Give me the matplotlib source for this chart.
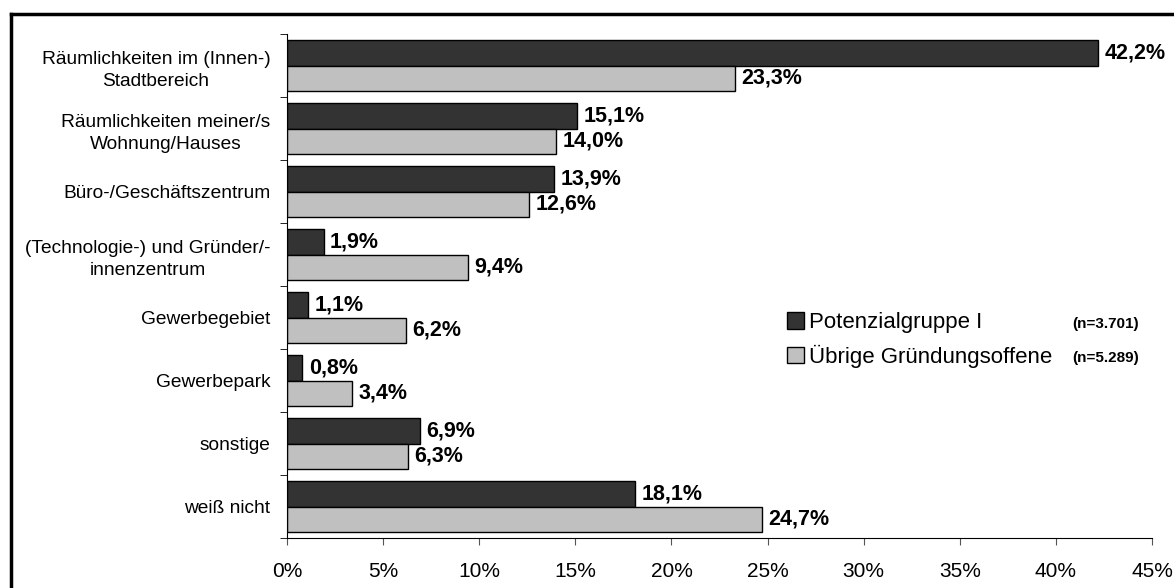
import matplotlib.pyplot as plt
import numpy as np
from matplotlib.patches import Patch
from matplotlib.lines import Line2D
from matplotlib.ticker import FixedLocator, PercentFormatter

plt.rcParams['font.family'] = ['Liberation Sans', 'DejaVu Sans']

categories = ["Räumlichkeiten im (Innen-)\nStadtbereich",
              "Räumlichkeiten meiner/s\nWohnung/Hauses",
              "Büro-/Geschäftszentrum",
              "(Technologie-) und Gründer/-\ninnenzentrum",
              "Gewerbegebiet",
              "Gewerbepark",
              "sonstige",
              "weiß nicht"]
potenzial = [42.2, 15.1, 13.9, 1.9, 1.1, 0.8, 6.9, 18.1]
uebrige = [23.3, 14.0, 12.6, 9.4, 6.2, 3.4, 6.3, 24.7]
series_names = ["Potenzialgruppe I", "Übrige Gründungsoffene"]
series_n = ["(n=3.701)", "(n=5.289)"]
colors = ["#333333", "#c0c0c0"]

fig = plt.figure(figsize=(11.74, 5.88), dpi=100)
ax = fig.add_axes([0.2445, 0.085, 0.9813 - 0.2445, 0.857])

y = np.arange(len(categories))
h = 0.4
for vals, off, col in [(potenzial, -h / 2, colors[0]), (uebrige, h / 2, colors[1])]:
    bars = ax.barh(y + off, vals, height=h, color=col, edgecolor="black", linewidth=1)
    for b, v in zip(bars, vals):
        ax.annotate(f"{v:.1f}%".replace(".", ","), (b.get_width(), b.get_y() + b.get_height() / 2),
                    xytext=(4.5, 0), textcoords="offset points", va="center", ha="left",
                    fontsize=15.5, fontweight="bold", clip_on=False)

ax.set_xlim(0, 45)
ax.set_ylim(len(categories) - 0.5, -0.5)
ax.xaxis.set_major_locator(FixedLocator(np.arange(0, 46, 5)))
ax.xaxis.set_major_formatter(PercentFormatter(decimals=0))
ax.set_yticks(y)
ax.set_yticklabels(categories, multialignment="center", linespacing=1.4)
ax.yaxis.set_minor_locator(FixedLocator(np.arange(-0.5, len(categories), 1)))
ax.tick_params(axis="y", which="major", length=0, pad=12, labelsize=13.8)
ax.tick_params(axis="y", which="minor", length=5, direction="out")
ax.tick_params(axis="x", length=5, direction="out", labelsize=15, pad=12, color="#555555")
ax.spines["top"].set_visible(False)
ax.spines["right"].set_visible(False)

handles = [Patch(facecolor=c, edgecolor="black") for c in colors]
fig.legend(handles, series_names, loc="center left", bbox_to_anchor=(787 / 1174, 1 - 340 / 588),
           frameon=False, fontsize=16, handlelength=0.75, handleheight=0.75,
           handletextpad=0.25, labelspacing=0.5, borderaxespad=0, borderpad=0)
for i, t in enumerate(series_n):
    fig.text(1139 / 1174, 1 - (324 + i * 34) / 588, t, ha="right", va="center",
             fontsize=11, fontweight="bold")

# frame around the whole chart (clipped at right and bottom)
fig.add_artist(Line2D([11 / 1174, 11 / 1174], [0, 1 - 14 / 588], color="black", lw=2.5))
fig.add_artist(Line2D([11 / 1174, 1], [1 - 14 / 588, 1 - 14 / 588], color="black", lw=2.5))

fig.savefig("out.png", dpi=100)
